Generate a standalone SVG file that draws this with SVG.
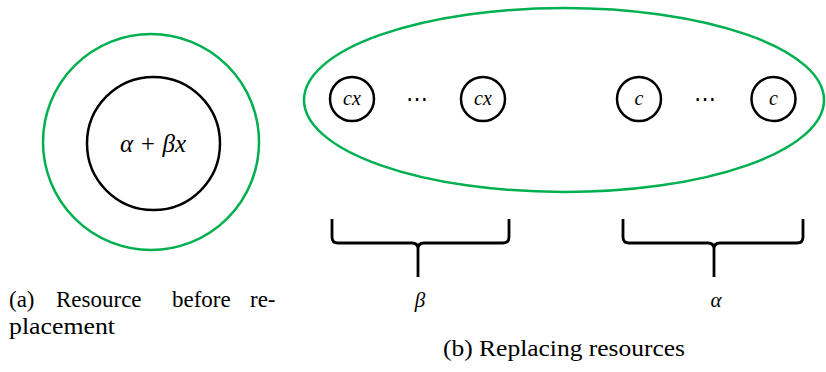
<svg xmlns="http://www.w3.org/2000/svg" width="826" height="372" viewBox="0 0 826 372">
<style>
.green{fill:none;stroke:#00b050;stroke-width:2.5}
.blk{fill:none;stroke:#000;stroke-width:2.5}
.brace{fill:none;stroke:#000;stroke-width:2.8;stroke-linejoin:round}
.math{font-family:'Liberation Serif','DejaVu Serif',serif;font-style:italic;fill:#000;text-anchor:middle}
.cap{font-family:'Liberation Serif','DejaVu Serif',serif;font-size:23px;fill:#000}
.dots{font-family:'Liberation Serif','DejaVu Serif',serif;font-size:22px;fill:#000;text-anchor:middle}
</style>
<rect width="826" height="372" fill="#fff"/>
<g id="before">
<circle class="green" cx="151" cy="142" r="108"/>
<circle class="blk" cx="153.5" cy="143.5" r="66.5"/>
<text class="math" x="153" y="152" font-size="25">α + βx</text>
</g>
<g id="group-ellipse">
<ellipse class="green" cx="564" cy="100" rx="260" ry="92"/>
</g>
<g id="cx1"><circle class="blk" cx="352" cy="99" r="22"/><text class="math" x="352" y="105" font-size="20">cx</text></g>
<text class="dots" x="417" y="106">⋯</text>
<g id="cx2"><circle class="blk" cx="483" cy="99" r="22"/><text class="math" x="483" y="105" font-size="20">cx</text></g>
<g id="c1"><circle class="blk" cx="639" cy="99" r="22"/><text class="math" x="639" y="105" font-size="20">c</text></g>
<text class="dots" x="705" y="106">⋯</text>
<g id="c2"><circle class="blk" cx="773.5" cy="99" r="22"/><text class="math" x="773.5" y="105" font-size="20">c</text></g>
<g id="connectors">
<path class="brace" d="M332,219 L332,237 Q332,243 338,243 L412,243 Q418,243 418,249 L418,277 M418,249 Q418,243 424,243 L503,243 Q509,243 509,237 L509,219"/>
<path class="brace" d="M623,219 L623,237 Q623,243 629,243 L708,243 Q714,243 714,249 L714,277 M714,249 Q714,243 720,243 L797,243 Q803,243 803,237 L803,219"/>
</g>
<text class="math" x="420" y="307" font-size="21">β</text>
<text class="math" x="716" y="307" font-size="21">α</text>
<text class="cap" y="307"><tspan x="9">(a)</tspan><tspan x="56">Resource</tspan><tspan x="172">before</tspan><tspan x="250">re-</tspan></text>
<text class="cap" x="9" y="334" textLength="106" lengthAdjust="spacingAndGlyphs">placement</text>
<text class="cap" x="443" y="356" textLength="242" lengthAdjust="spacingAndGlyphs">(b) Replacing resources</text>
</svg>
